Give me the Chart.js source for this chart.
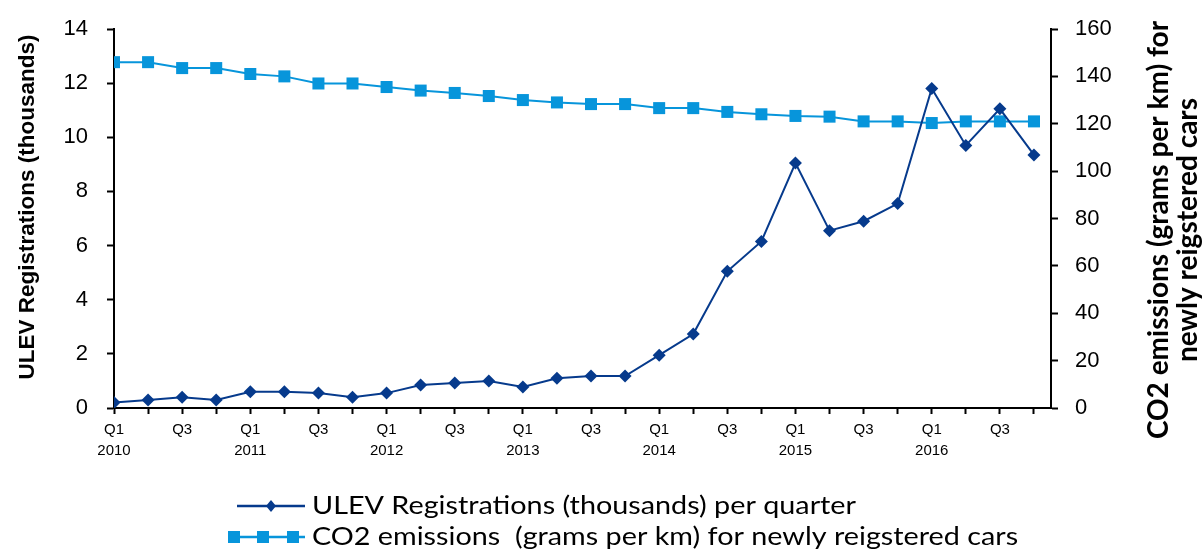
<!DOCTYPE html>
<html>
<head>
<meta charset="utf-8">
<script src="https://cdn.jsdelivr.net/npm/chart.js@4"></script>
<style>
  html, body { margin: 0; padding: 0; background: #fff; }
  #wrap { width: 1204px; height: 551px; }
</style>
</head>
<body>
<div id="wrap"><canvas id="chart" width="1204" height="551"></canvas></div>
<script>
// quarters Q1 2010 .. Q4 2016
var quarters = ["Q1", "Q2", "Q3", "Q4"];
var years = ["2010", "2011", "2012", "2013", "2014", "2015", "2016"];

// ULEV registrations (thousands) per quarter
var ulev = [0.2, 0.3, 0.4, 0.3, 0.6, 0.6, 0.55, 0.4,
            0.55, 0.85, 0.92, 1.0, 0.78, 1.1, 1.18, 1.18,
            1.95, 2.73, 5.05, 6.15, 9.05, 6.55, 6.9, 7.55,
            11.8, 9.7, 11.05, 9.35];

// CO2 emissions (g/km) for newly registered cars
var co2 = [146, 146, 143.5, 143.5, 141, 140, 137, 137,
           135.5, 134, 133, 131.7, 130, 129, 128.3, 128.3,
           126.6, 126.6, 125, 124, 123.3, 123, 121, 121,
           120.3, 121, 121, 121];

var ulevLabel = "ULEV Registrations (thousands) per quarter";
var co2Label = "CO2 emissions  (grams per km) for newly reigstered cars";

var navy = "#063a8c";
var sky = "#0795db";

function toPoints(arr) {
  return arr.map(function (v, i) { return { x: i, y: v }; });
}

function tickLabel(i) {
  var q = i % 4;
  if (q === 0) return [quarters[0], years[Math.floor(i / 4)]];
  if (q === 2) return [quarters[2], ""];
  return "";
}

// keep the plot box fixed, whatever the tick padding
function fixVertical(width) {
  return function (axis) {
    axis.width = width;
    axis.paddingTop = 0;
    axis.paddingBottom = 0;
  };
}

// axis titles and legend drawn by hand
var extras = {
  id: "extras",
  afterDraw: function (chart) {
    var ctx = chart.ctx;
    ctx.save();
    ctx.fillStyle = "#000";
    ctx.textAlign = "center";
    ctx.textBaseline = "middle";

    ctx.save();
    ctx.translate(28, 207);
    ctx.rotate(-Math.PI / 2);
    ctx.font = "bold 22.5px 'Liberation Sans'";
    ctx.fillText("ULEV Registrations (thousands)", 0, 0);
    ctx.restore();

    ctx.save();
    ctx.translate(1159, 230);
    ctx.rotate(-Math.PI / 2);
    ctx.font = "bold 28px Lato";
    ctx.fillText("CO2 emissions (grams per km) for", 0, 0);
    ctx.fillText("newly reigstered cars", 0, 29);
    ctx.restore();

    // legend
    ctx.textAlign = "left";
    ctx.font = "25px Lato";
    var sx = 544 / ctx.measureText(ulevLabel).width;
    var y1 = 506, y2 = 537;
    ctx.strokeStyle = navy;
    ctx.lineWidth = 2.5;
    ctx.beginPath(); ctx.moveTo(237, y1); ctx.lineTo(305, y1); ctx.stroke();
    ctx.fillStyle = navy;
    ctx.beginPath();
    ctx.moveTo(271, y1 - 6); ctx.lineTo(276, y1); ctx.lineTo(271, y1 + 6); ctx.lineTo(266, y1);
    ctx.closePath(); ctx.fill();

    ctx.strokeStyle = sky;
    ctx.beginPath(); ctx.moveTo(230, y2); ctx.lineTo(305, y2); ctx.stroke();
    ctx.fillStyle = sky;
    [234, 263, 293].forEach(function (x) { ctx.fillRect(x - 6, y2 - 6, 12, 12); });

    ctx.fillStyle = "#000";
    ctx.save();
    ctx.translate(312, 0);
    ctx.scale(sx, 1);
    ctx.fillText(ulevLabel, 0, y1);
    ctx.fillText(co2Label, 0, y2);
    ctx.restore();
    ctx.restore();
  }
};

new Chart(document.getElementById("chart"), {
  type: "line",
  data: {
    datasets: [
      {
        label: ulevLabel,
        data: toPoints(ulev),
        yAxisID: "y",
        borderColor: navy,
        backgroundColor: navy,
        borderWidth: 2,
        pointStyle: "rectRot",
        pointRadius: 6.5,
        pointBorderWidth: 0,
        order: 1
      },
      {
        label: co2Label,
        data: toPoints(co2),
        yAxisID: "y2",
        borderColor: sky,
        backgroundColor: sky,
        borderWidth: 2,
        pointStyle: "rect",
        pointRadius: 8.5,
        pointBorderWidth: 0,
        order: 2
      }
    ]
  },
  options: {
    responsive: false,
    animation: false,
    layout: { padding: { top: 29, left: 0, right: 0, bottom: 0 } },
    plugins: { legend: { display: false }, tooltip: { enabled: false } },
    scales: {
      x: {
        type: "linear",
        min: 0,
        max: 27.5,
        afterBuildTicks: function (axis) {
          var t = [];
          for (var i = 0; i < ulev.length; i++) t.push({ value: i });
          axis.ticks = t;
        },
        afterFit: function (axis) {
          axis.height = 143;
          axis.paddingLeft = 0;
          axis.paddingRight = 0;
        },
        grid: { drawOnChartArea: false, tickLength: 6, color: "#000", tickWidth: 2 },
        border: { color: "#000", width: 2 },
        ticks: {
          autoSkip: false,
          maxRotation: 0,
          color: "#000",
          padding: 5,
          font: { family: "'Liberation Sans'", size: 15, lineHeight: 1.4 },
          callback: function (v) { return tickLabel(v); }
        }
      },
      y: {
        position: "left",
        min: 0,
        max: 14,
        afterFit: fixVertical(114),
        grid: { drawOnChartArea: false, tickLength: 7, color: "#000", tickWidth: 2 },
        border: { color: "#000", width: 2 },
        ticks: { stepSize: 2, color: "#000", padding: 19, font: { family: "'Liberation Sans'", size: 22 } }
      },
      y2: {
        position: "right",
        min: 0,
        max: 160,
        afterFit: fixVertical(153),
        grid: { drawOnChartArea: false, tickLength: 7, color: "#000", tickWidth: 2 },
        border: { color: "#000", width: 2 },
        ticks: { stepSize: 20, color: "#000", padding: 17, font: { family: "'Liberation Sans'", size: 22 } }
      }
    }
  },
  plugins: [extras]
});
</script>
</body>
</html>
